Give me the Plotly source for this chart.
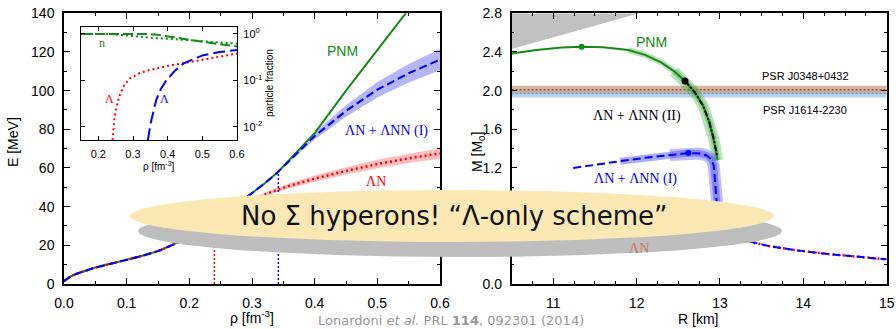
import plotly.graph_objects as go

W, H = 896, 329

# ---------------- Left panel: E(rho) ----------------
rho_common = [0.0, 0.005, 0.01, 0.02, 0.03, 0.05, 0.075, 0.10, 0.125, 0.15, 0.175, 0.20, 0.22, 0.24]
E_common = [1.5, 2.8, 3.8, 5.3, 6.5, 8.5, 10.5, 12.5, 14.6, 17.0, 20.5, 24.5, 28.5, 33.0]
rho_pnm = [0.26, 0.28, 0.30, 0.32, 0.34, 0.37, 0.40, 0.45, 0.50, 0.55]
E_pnm = [37.5, 42.0, 47.0, 52.0, 57.5, 67.5, 78.0, 100.0, 121.0, 142.0]
rho_l1 = [0.37, 0.40, 0.45, 0.50, 0.55, 0.60]
E_l1 = [67.0, 76.5, 89.5, 100.5, 109.0, 116.0]
dE_l1 = [0.8, 1.8, 3.0, 4.0, 4.8, 5.5]
rho_ln = [0.26, 0.28, 0.30, 0.33, 0.36, 0.40, 0.45, 0.50, 0.55, 0.60]
E_ln = [37.0, 40.5, 43.5, 47.5, 50.8, 54.5, 58.5, 62.0, 65.0, 67.5]
dE_ln = [0.3, 0.5, 0.7, 1.0, 1.3, 1.6, 1.9, 2.2, 2.4, 2.6]
rho_thr = [0.24, 0.342]      # hyperon thresholds (LN, LN+LNN I)
E_thr = [33.0, 57.5]

# ---------------- Inset: particle fractions ----------------
rho_n_ln = [0.15, 0.24, 0.26, 0.30, 0.35, 0.40, 0.45, 0.50, 0.55, 0.60]
x_n_ln = [1.0, 1.0, 0.96, 0.89, 0.83, 0.79, 0.75, 0.71, 0.67, 0.62]
rho_n_l1 = [0.15, 0.34, 0.37, 0.40, 0.45, 0.50, 0.55, 0.60]
x_n_l1 = [1.0, 1.0, 0.96, 0.88, 0.78, 0.68, 0.60, 0.54]
rho_lam_ln = [0.241, 0.243, 0.246, 0.25, 0.26, 0.275, 0.29, 0.32, 0.35, 0.40, 0.45, 0.50, 0.55, 0.60]
x_lam_ln = [0.0052, 0.008, 0.014, 0.022, 0.045, 0.08, 0.11, 0.145, 0.17, 0.205, 0.24, 0.285, 0.33, 0.38]
rho_lam_l1 = [0.343, 0.345, 0.349, 0.353, 0.36, 0.367, 0.38, 0.396, 0.42, 0.445, 0.475, 0.503, 0.55, 0.60]
x_lam_l1 = [0.0052, 0.007, 0.01, 0.014, 0.024, 0.038, 0.065, 0.10, 0.16, 0.23, 0.29, 0.35, 0.41, 0.45]

# ---------------- Right panel: M(R) ----------------
R_pnm = [10.5, 10.8, 11.1, 11.34, 11.6, 11.9, 12.1, 12.3, 12.45, 12.58, 12.7, 12.8, 12.87, 12.92, 12.95, 12.97]
M_pnm = [2.385, 2.42, 2.445, 2.455, 2.45, 2.42, 2.37, 2.29, 2.20, 2.10, 1.98, 1.84, 1.68, 1.52, 1.40, 1.28]
R_l2 = [12.58, 12.7, 12.8, 12.87, 12.92, 12.95, 12.965]
M_l2 = [2.10, 1.98, 1.84, 1.68, 1.52, 1.40, 1.32]
R_l1 = [11.24, 11.5, 11.8, 12.1, 12.4, 12.62, 12.75, 12.84, 12.9, 12.925, 12.935, 12.945, 12.955]
M_l1 = [1.20, 1.235, 1.27, 1.305, 1.335, 1.354, 1.35, 1.33, 1.29, 1.22, 1.12, 1.00, 0.88]
R_ln = [11.8, 12.2, 12.5, 12.75, 12.9, 13.0]
M_ln = [0.50, 0.57, 0.61, 0.63, 0.625, 0.60]
R_low = [12.96, 12.975, 13.0, 13.05, 13.12, 13.2, 13.35, 13.6, 13.9, 14.3, 14.7, 15.0]
M_low = [0.85, 0.75, 0.67, 0.60, 0.54, 0.49, 0.44, 0.39, 0.35, 0.31, 0.275, 0.255]
R_max = [11.34, 12.62]
M_max = [2.455, 1.354]
R_onset = [12.58]
M_onset = [2.10]
caus_R = [10.5, 10.5, 12.03]
caus_M = [2.8, 2.43, 2.8]
psr_names = ["PSR J0348+0432", "PSR J1614-2230"]
psr_mass = [2.01, 1.97]
psr_err = [0.04, 0.04]

fig = go.Figure()

# ---- left panel traces ----
xb = [rho_thr[1]] + rho_l1 + rho_l1[::-1] + [rho_thr[1]]
yb = [E_thr[1]] + [e + d for e, d in zip(E_l1, dE_l1)] + [e - d for e, d in zip(E_l1[::-1], dE_l1[::-1])] + [E_thr[1]]
fig.add_trace(go.Scatter(x=xb, y=yb, fill="toself", fillcolor="rgba(90,90,245,0.45)",
                         line=dict(width=0), mode="lines", xaxis="x", yaxis="y", hoverinfo="skip"))
xr = [rho_thr[0]] + rho_ln + rho_ln[::-1] + [rho_thr[0]]
yr = [E_thr[0]] + [e + d for e, d in zip(E_ln, dE_ln)] + [e - d for e, d in zip(E_ln[::-1], dE_ln[::-1])] + [E_thr[0]]
fig.add_trace(go.Scatter(x=xr, y=yr, fill="toself", fillcolor="rgba(255,90,90,0.4)",
                         line=dict(width=0), mode="lines", xaxis="x", yaxis="y", hoverinfo="skip"))
# threshold markers
fig.add_trace(go.Scatter(x=[rho_thr[0], rho_thr[0]], y=[0, E_thr[0]], mode="lines",
                         line=dict(color="red", width=1.5, dash="2px,2px"), xaxis="x", yaxis="y"))
fig.add_trace(go.Scatter(x=[rho_thr[1], rho_thr[1]], y=[0, E_thr[1]], mode="lines",
                         line=dict(color="blue", width=1.5, dash="2px,2px"), xaxis="x", yaxis="y"))
# PNM
fig.add_trace(go.Scatter(x=rho_common + rho_pnm, y=E_common + E_pnm, mode="lines",
                         line=dict(color="#138a13", width=2), xaxis="x", yaxis="y"))
# LN
fig.add_trace(go.Scatter(x=rho_common + rho_ln, y=E_common + E_ln, mode="lines",
                         line=dict(color="red", width=2.5, dash="2px,3px"), xaxis="x", yaxis="y"))
# LN + LNN (I)
fig.add_trace(go.Scatter(x=rho_common + rho_pnm[:5] + rho_l1, y=E_common + E_pnm[:5] + E_l1, mode="lines",
                         line=dict(color="blue", width=2, dash="8px,4px"), xaxis="x", yaxis="y"))

# ---- inset traces ----
fig.add_trace(go.Scatter(x=rho_n_l1, y=x_n_l1, mode="lines",
                         line=dict(color="#138a13", width=2, dash="10px,4px"), xaxis="x3", yaxis="y3"))
fig.add_trace(go.Scatter(x=rho_n_ln, y=x_n_ln, mode="lines",
                         line=dict(color="#138a13", width=2, dash="2px,3px"), xaxis="x3", yaxis="y3"))
fig.add_trace(go.Scatter(x=rho_lam_ln, y=x_lam_ln, mode="lines",
                         line=dict(color="red", width=2, dash="2px,3px"), xaxis="x3", yaxis="y3"))
fig.add_trace(go.Scatter(x=rho_lam_l1, y=x_lam_l1, mode="lines",
                         line=dict(color="blue", width=2, dash="12px,5px"), xaxis="x3", yaxis="y3"))

# ---- right panel traces ----
fig.add_trace(go.Scatter(x=caus_R, y=caus_M, fill="toself", fillcolor="#c0c0c0",
                         line=dict(width=0), mode="lines", xaxis="x2", yaxis="y2"))
band_cols = ["rgba(205,170,145,0.85)", "rgba(170,205,240,0.85)"]
dot_cols = ["#a0522d", "#5f9ee0"]
for i in [1, 0]:
    fig.add_trace(go.Scatter(x=[10.5, 15, 15, 10.5], y=[psr_mass[i] - psr_err[i]] * 2 + [psr_mass[i] + psr_err[i]] * 2,
                             fill="toself", fillcolor=band_cols[i], line=dict(width=0), mode="lines",
                             xaxis="x2", yaxis="y2"))
for i in [1, 0]:
    fig.add_trace(go.Scatter(x=[10.5, 15], y=[psr_mass[i]] * 2, mode="lines",
                             line=dict(color=dot_cols[i], width=1.5, dash="2px,2px"), xaxis="x2", yaxis="y2"))
# bands around MR curves
fig.add_trace(go.Scatter(x=R_pnm[5:], y=M_pnm[5:], mode="lines",
                         line=dict(color="rgba(60,170,60,0.35)", width=6), xaxis="x2", yaxis="y2"))
fig.add_trace(go.Scatter(x=R_pnm[8:], y=M_pnm[8:], mode="lines",
                         line=dict(color="rgba(60,170,60,0.35)", width=11), xaxis="x2", yaxis="y2"))
fig.add_trace(go.Scatter(x=R_l1[2:] + R_low[:2], y=M_l1[2:] + M_low[:2], mode="lines",
                         line=dict(color="rgba(70,70,250,0.45)", width=7), xaxis="x2", yaxis="y2"))
fig.add_trace(go.Scatter(x=R_l1[4:] + R_low[:2], y=M_l1[4:] + M_low[:2], mode="lines",
                         line=dict(color="rgba(70,70,250,0.35)", width=12), xaxis="x2", yaxis="y2"))
# curves
fig.add_trace(go.Scatter(x=R_pnm, y=M_pnm, mode="lines", line=dict(color="#138a13", width=2),
                         xaxis="x2", yaxis="y2"))
fig.add_trace(go.Scatter(x=R_l2, y=M_l2, mode="lines", line=dict(color="black", width=2, dash="6px,2px,2px,2px"),
                         xaxis="x2", yaxis="y2"))
fig.add_trace(go.Scatter(x=R_ln + R_low[3:], y=M_ln + M_low[3:], mode="lines",
                         line=dict(color="red", width=2.5, dash="2px,3px"), xaxis="x2", yaxis="y2"))
fig.add_trace(go.Scatter(x=R_l1 + R_low, y=M_l1 + M_low, mode="lines",
                         line=dict(color="blue", width=2, dash="8px,4px"), xaxis="x2", yaxis="y2"))
fig.add_trace(go.Scatter(x=[R_max[0]], y=[M_max[0]], mode="markers",
                         marker=dict(color="#138a13", size=6), xaxis="x2", yaxis="y2"))
fig.add_trace(go.Scatter(x=[R_max[1]], y=[M_max[1]], mode="markers",
                         marker=dict(color="blue", size=6), xaxis="x2", yaxis="y2"))
fig.add_trace(go.Scatter(x=R_onset, y=M_onset, mode="markers",
                         marker=dict(color="black", size=7), xaxis="x2", yaxis="y2"))

# ---------------- layout ----------------
def px_x(p):
    return p / W

def px_y(p):
    return 1 - p / H

TF = "Liberation Sans, Arial, sans-serif"
common_ax = dict(showline=True, linecolor="black", linewidth=1.5, mirror="allticks", ticks="inside",
                 ticklen=6, tickcolor="black", showgrid=False, zeroline=False, automargin=False,
                 tickfont=dict(family=TF, size=14, color="black"), ticklabelstandoff=5)

fig.update_layout(
    width=W, height=H, autosize=False, showlegend=False,
    margin=dict(l=0, r=0, t=0, b=0, pad=0),
    paper_bgcolor="white", plot_bgcolor="white",
    xaxis=dict(common_ax, domain=[px_x(64), px_x(440)], range=[0, 0.6], dtick=0.1, tick0=0,
               tickformat=".1f", anchor="y",
               minor=dict(dtick=0.05, ticklen=3, ticks="inside", tickcolor="black")),
    yaxis=dict(common_ax, domain=[px_y(284), px_y(13.3)], range=[0, 140], dtick=20, anchor="x",
               minor=dict(dtick=10, ticklen=3, ticks="inside", tickcolor="black")),
    xaxis2=dict(common_ax, domain=[px_x(511.6), px_x(886.7)], range=[10.5, 15], dtick=1, tick0=11, anchor="y2",
                minor=dict(dtick=0.25, ticklen=3, ticks="inside", tickcolor="black")),
    yaxis2=dict(common_ax, domain=[px_y(284), px_y(13.3)], range=[0, 2.8], dtick=0.4, tickformat=".1f",
                anchor="x2", minor=dict(dtick=0.2, ticklen=3, ticks="inside", tickcolor="black")),
    xaxis3=dict(common_ax, domain=[px_x(81), px_x(237)], range=[0.15, 0.6],
                tickvals=[0.2, 0.3, 0.4, 0.5, 0.6], ticktext=["0.2", "0.3", "0.4", "0.5", "0.6"],
                ticklen=4, anchor="y3"),
    yaxis3=dict(common_ax, domain=[px_y(140), px_y(27)], type="log", range=[-2.28, 0.15],
                tickvals=[0.01, 0.1, 1], ticktext=["10<sup>-2</sup>", "10<sup>-1</sup>", "10<sup>0</sup>"],
                side="right", ticklen=4, anchor="x3"),
)
fig.layout.xaxis3.tickfont.size = 11
fig.layout.yaxis3.tickfont.size = 11
fig.layout.xaxis3.ticklabelstandoff = 4
fig.layout.yaxis3.ticklabelstandoff = 3
fig.layout.xaxis3.linewidth = 1.2
fig.layout.yaxis3.linewidth = 1.2

# inset white background
fig.add_shape(type="rect", xref="paper", yref="paper", x0=px_x(81), x1=px_x(237), y0=px_y(140), y1=px_y(27),
              fillcolor="white", line=dict(width=0), layer="below")

# bubble with shadow
fig.add_shape(type="circle", xref="paper", yref="paper", x0=px_x(138), x1=px_x(782), y0=px_y(257), y1=px_y(205),
              fillcolor="#bebebe", line=dict(width=0), layer="above")
fig.add_shape(type="circle", xref="paper", yref="paper", x0=px_x(130), x1=px_x(774), y0=px_y(242), y1=px_y(190),
              fillcolor="#fce8b4", line=dict(width=0), layer="above")

ann = []
def text(x, y, s, size=14, color="black", family=TF, xref="paper", yref="paper", angle=0):
    ann.append(dict(x=x, y=y, xref=xref, yref=yref, text=s, showarrow=False, textangle=angle,
                    font=dict(family=family, size=size, color=color), xanchor="center", yanchor="middle"))

SERIF = "Liberation Serif, Times New Roman, serif"
# left panel labels
text(0.445, 120.5, "PNM", 14, "#138a13", TF, "x", "y")
text(0.515, 79.1, "ΛN + ΛNN (I)", 14, "blue", SERIF, "x", "y")
text(0.4976, 52.8, "ΛN", 14, "red", SERIF, "x", "y")
# inset labels
text(0.2106, -0.194, "n", 12, "#138a13", SERIF, "x3", "y3")
text(0.2308, -1.398, "Λ", 12, "red", SERIF, "x3", "y3")
text(0.392, -1.398, "Λ", 12, "blue", SERIF, "x3", "y3")
text(px_x(159), px_y(166), "ρ [fm<sup>-3</sup>]", 10)
text(px_x(269), px_y(83), "particle fraction", 10, angle=-90)
# right panel labels
text(12.183, 2.503, "PNM", 14, "#138a13", TF, "x2", "y2")
text(14.03, 2.151, psr_names[0], 11, "black", TF, "x2", "y2")
text(14.018, 1.80, psr_names[1], 11, "black", TF, "x2", "y2")
text(12.004, 1.738, "ΛN + ΛNN (II)", 14, "black", SERIF, "x2", "y2")
text(11.99, 1.086, "ΛN + ΛNN (I)", 14, "blue", SERIF, "x2", "y2")
text(12.03, 0.372, "ΛN", 14, "rgba(225,40,40,0.55)", SERIF, "x2", "y2")
# axis titles
text(px_x(13), px_y(142), "E [MeV]", 14, angle=-90)
text(px_x(252), px_y(317), "ρ [fm<sup>-3</sup>]", 14)
text(px_x(698), px_y(319), "R [km]", 14)
text(px_x(478), px_y(152), "M [M<sub>0</sub>]", 14, angle=-90)
# bubble text and citation
text(px_x(454), px_y(216), "No Σ hyperons! “Λ-only scheme”", 26, "#111111", "DejaVu Sans")
text(px_x(451), px_y(320), "Lonardoni <i>et al.</i> PRL <b>114</b>, 092301 (2014)", 13, "#999999", "DejaVu Sans")

fig.update_layout(annotations=ann)
fig.write_html("out.html")
